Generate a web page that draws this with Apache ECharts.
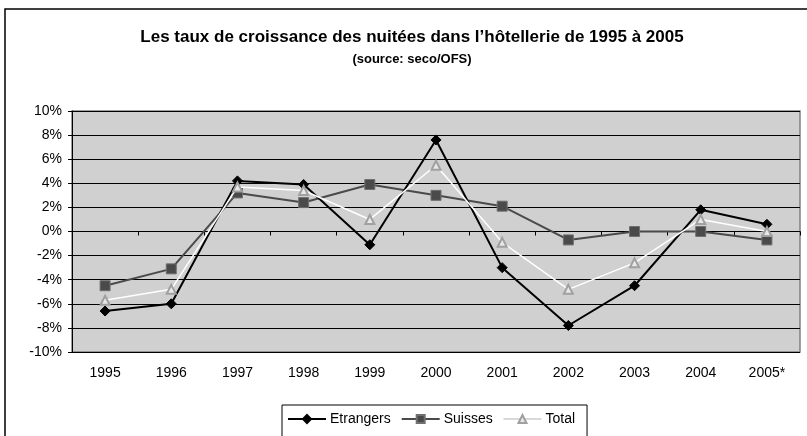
<!DOCTYPE html>
<html>
<head>
<meta charset="utf-8">
<script src="https://cdn.jsdelivr.net/npm/echarts@6/dist/echarts.min.js"></script>
<style>
  html, body { margin: 0; padding: 0; background: #fff; }
  #chart { width: 807px; height: 436px; }
</style>
</head>
<body>
<div id="chart"></div>
<script>
var years = ['1995', '1996', '1997', '1998', '1999', '2000', '2001', '2002', '2003', '2004', '2005*'];
// taux de croissance en %
var etrangers = [-6.6, -6.0, 4.2, 3.9, -1.1, 7.6, -3.0, -7.8, -4.5, 1.8, 0.6];
var suisses = [-4.5, -3.1, 3.2, 2.4, 3.9, 3.0, 2.1, -0.7, 0.0, 0.0, -0.7];
var total = [-5.7, -4.8, 3.7, 3.4, 1.0, 5.5, -0.9, -4.8, -2.6, 1.0, 0.0];
var yTicks = { min: -10, max: 10, step: 2 };

var font = '"Liberation Sans", Arial, sans-serif';
var chart = echarts.init(document.getElementById('chart'), null, { renderer: 'canvas' });

var option = {
  backgroundColor: '#fff',
  animation: false,
  textStyle: { fontFamily: font },
  title: {
    text: 'Les taux de croissance des nuitées dans l’hôtellerie de 1995 à 2005',
    subtext: '(source: seco/OFS)',
    left: 407,
    textAlign: 'center',
    top: 24,
    itemGap: 7,
    textStyle: { fontFamily: font, fontSize: 17, fontWeight: 'bold', color: '#000' },
    subtextStyle: { fontFamily: font, fontSize: 13, fontWeight: 'bold', color: '#000' }
  },
  graphic: [{
    // cadre exterieur du graphique
    type: 'rect',
    shape: { x: 5, y: 9, width: 900, height: 500 },
    style: { fill: 'none', stroke: '#000', lineWidth: 1.5 },
    silent: true
  }],
  legend: {
    left: 282,
    top: 405,
    padding: [7, 12, 16, 5],
    itemGap: 10,
    itemWidth: 38,
    itemHeight: 10,
    borderColor: '#000',
    borderWidth: 1,
    backgroundColor: '#fff',
    textStyle: { fontFamily: font, fontSize: 14, color: '#000', padding: [0, 0, 0, -1] },
    data: [
      { name: 'Etrangers' },
      { name: 'Suisses' },
      { name: 'Total', lineStyle: { color: '#cccccc', width: 1.5 } }
    ]
  },
  grid: {
    left: 72,
    right: 7,
    top: 111,
    bottom: 84,
    show: true,
    backgroundColor: '#d0d0d0',
    borderColor: '#808080',
    borderWidth: 1.5
  },
  xAxis: [{
    // labels en bas
    type: 'category',
    data: years,
    position: 'bottom',
    axisLine: { onZero: false, show: false },
    axisTick: { show: false },
    axisLabel: { fontFamily: font, fontSize: 14, color: '#000', margin: 14 }
  }, {
    // axe sur le zero avec graduations
    type: 'category',
    data: years,
    position: 'top',
    axisLine: { onZero: true, lineStyle: { color: '#000', width: 1 } },
    axisTick: { show: true, inside: true, length: 4, lineStyle: { color: '#000' } },
    axisLabel: { show: false }
  }],
  yAxis: {
    type: 'value',
    min: yTicks.min,
    max: yTicks.max,
    interval: yTicks.step,
    axisLine: { show: true, lineStyle: { color: '#000', width: 1 } },
    axisTick: { show: true, length: 4, lineStyle: { color: '#000' } },
    axisLabel: { fontFamily: font, fontSize: 14, color: '#000', margin: 10, formatter: '{value}%' },
    splitLine: { show: true, lineStyle: { color: '#000', width: 1 } }
  },
  series: [{
    name: 'Etrangers',
    type: 'line',
    data: etrangers,
    symbol: 'diamond',
    symbolSize: 10,
    lineStyle: { color: '#000', width: 2 },
    itemStyle: { color: '#000', borderColor: '#000', borderWidth: 1 },
    z: 4
  }, {
    name: 'Suisses',
    type: 'line',
    data: suisses,
    symbol: 'rect',
    symbolSize: 10,
    lineStyle: { color: '#4a4a4a', width: 2 },
    itemStyle: { color: '#4a4a4a', borderColor: '#707070', borderWidth: 1 },
    z: 3
  }, {
    name: 'Total',
    type: 'line',
    data: total,
    symbol: 'triangle',
    symbolSize: 9,
    lineStyle: { color: '#fff', width: 1.5 },
    itemStyle: { color: '#e8e8e8', borderColor: '#a0a0a0', borderWidth: 2 },
    z: 5
  }]
};
chart.setOption(option);
</script>
</body>
</html>
